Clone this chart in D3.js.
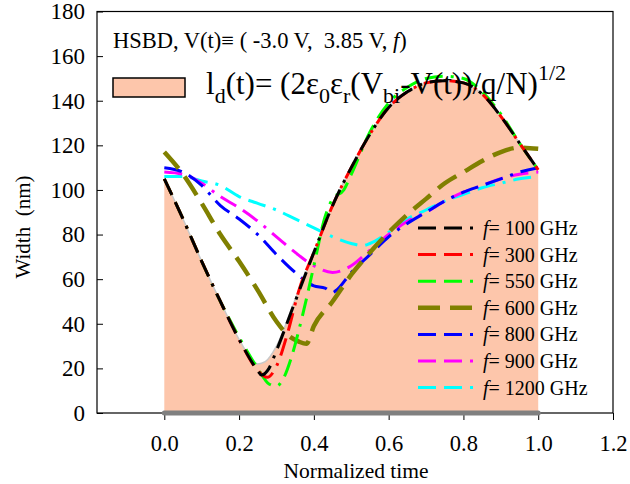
<!DOCTYPE html>
<html><head><meta charset="utf-8">
<script src="https://cdn.jsdelivr.net/npm/d3@7"></script>
<style>body{margin:0;background:#fff}svg{display:block}text{font-family:"Liberation Serif","Times New Roman",serif;white-space:pre}</style>
</head><body><svg id="c" width="630" height="484"></svg>
<script>
const xTicks=[0.0,0.2,0.4,0.6,0.8,1.0,1.2];
const yTicks=[0,20,40,60,80,100,120,140,160,180];
const idealT=[0,0.05,0.1,0.15,0.2,0.225,0.25,0.27,0.3,0.35,0.4,0.45,0.5,0.55,0.6,0.65,0.7,0.75,0.8,0.85,0.9,0.95,1.0];
const idealV=[105,87,68,50,33,26,22,23,30,51,72,93,110,125,137,144,148,149,148,143,133,121,108];
const t100=[0,0.05,0.1,0.15,0.2,0.25,0.26,0.28,0.3,0.35,0.4,0.45,0.5,0.55,0.6,0.65,0.7,0.75,0.8,0.85,0.9,0.95,1.0];
const v100=[105,87,68,50,33,19,17,20,28,50,72,93,110,125,137,144,148,149,148,143,133,121,109];
const t300=[0,0.05,0.1,0.15,0.2,0.25,0.275,0.3,0.33,0.36,0.4,0.45,0.5,0.55,0.6,0.65,0.7,0.75,0.8,0.85,0.9,0.95,1.0];
const v300=[105,87,68,50,33,19,16,21,36,55,72,93,110,125,137,144,148,149,148,143,133,121,109];
const t550=[0,0.05,0.1,0.15,0.2,0.25,0.28,0.3,0.32,0.34,0.37,0.4,0.43,0.45,0.48,0.5,0.55,0.6,0.65,0.7,0.75,0.8,0.85,0.9,0.95,1.0];
const v550=[105,87,68,50,34,20,13,12,16,25,44,66,88,96,100,107,126,139,146,150,151,150,144,134,121,109];
const t600=[0,0.05,0.1,0.15,0.2,0.25,0.3,0.33,0.36,0.38,0.4,0.45,0.5,0.55,0.6,0.65,0.7,0.75,0.8,0.85,0.9,0.95,1.0];
const v600=[117,107,94,80,68,55,41,35,32,31,39,50,62,72,81,89,96,103,108,113,117,119,118.5];
const t800=[0,0.05,0.1,0.15,0.2,0.25,0.3,0.35,0.4,0.43,0.45,0.46,0.5,0.55,0.6,0.65,0.7,0.75,0.8,0.85,0.9,0.95,1.0];
const v800=[110,108,102,93,87,80,71,63,57,56,54,55,63,71,79,85,90,95,99,102,105,108,110];
const t900=[0,0.05,0.1,0.15,0.2,0.25,0.3,0.35,0.4,0.45,0.5,0.55,0.6,0.65,0.7,0.75,0.8,0.85,0.9,0.95,1.0];
const v900=[108,107,103,97,92,86,79,72,66,63,66,73,80,86,90,95,99,102,105,107,108];
const t1200=[0,0.05,0.1,0.15,0.2,0.25,0.3,0.35,0.4,0.45,0.5,0.53,0.55,0.6,0.65,0.7,0.75,0.8,0.85,0.9,0.95,1.0];
const v1200=[106,106,104,102,97,94,91,87,83,79,76,75,76,81,87,91,95,98,101,103,105,106];
const labels=["f= 100 GHz","f= 300 GHz","f= 550 GHz","f= 600 GHz","f= 800 GHz","f= 900 GHz","f= 1200 GHz"];
const colors=["#000000","#ff0000","#00ff00","#808000","#0000ff","#ff00ff","#00ffff"];

const series=[[t100,v100],[t300,v300],[t550,v550],[t600,v600],[t800,v800],[t900,v900],[t1200,v1200]];
const svg=d3.select("#c");
const x=d3.scaleLinear().domain([-0.18,1.2]).range([97,613]);
const y=d3.scaleLinear().domain([0,180]).range([413,11.5]);

// fill area
const ideal=idealT.map((t,i)=>({t,v:idealV[i]}));
svg.append("path").datum(ideal)
  .attr("d",d3.area().x(d=>x(d.t)).y0(y(0)).y1(d=>y(d.v)).curve(d3.curveMonotoneX))
  .attr("fill","#fdc6ab");
svg.append("path").datum(ideal)
  .attr("d",d3.line().x(d=>x(d.t)).y(d=>y(d.v)).curve(d3.curveMonotoneX))
  .attr("fill","none").attr("stroke","#c8c8c8").attr("stroke-width",1.5);

// frame
svg.append("rect").attr("x",97).attr("y",11.5).attr("width",516).attr("height",401.5)
  .attr("fill","none").attr("stroke","#000").attr("stroke-width",1.2);

// axes
const xa=svg.append("g").attr("transform",`translate(0,${y(0)})`)
  .call(d3.axisBottom(x).tickValues(xTicks).tickFormat(d3.format(".1f")).tickSize(7).tickPadding(15));
xa.select(".domain").remove();
xa.selectAll("line").attr("stroke","#000");
xa.selectAll("text").attr("font-size",22.5).attr("fill","#000");
const ya=svg.append("g").attr("transform",`translate(97,0)`)
  .call(d3.axisLeft(y).tickValues(yTicks).tickFormat(d3.format("d")).tickSize(-6).tickPadding(12));
ya.select(".domain").remove();
ya.selectAll("line").attr("stroke","#000");
ya.selectAll("text").attr("font-size",23).attr("fill","#000");

// gray baseline
svg.append("line").attr("x1",x(0)).attr("x2",x(1)).attr("y1",y(0)).attr("y2",y(0))
  .attr("stroke","#808080").attr("stroke-width",5).attr("stroke-linecap","round");

// curves
const dashes=["18,8,18,8,3,8","18,8,18,8,3,8","18,8,18,8,3,8","22,10","18,8,18,8,3,8","18,8,18,8,3,8","18,8,18,8,3,8"];
const widths=[3,3,3,4.5,3,3,3];
const order=[6,5,4,3,2,1,0];
const line=d3.line().x(d=>x(d.t)).y(d=>y(d.v)).curve(d3.curveMonotoneX);
order.forEach(i=>{
  const [ts,vs]=series[i];
  svg.append("path").datum(ts.map((t,j)=>({t,v:vs[j]})))
    .attr("d",line).attr("fill","none").attr("stroke",colors[i])
    .attr("stroke-width",widths[i]).attr("stroke-dasharray",dashes[i]);
});

// legend
const ly0=228, ldy=26.6;
labels.forEach((lab,i)=>{
  const yy=ly0+i*ldy;
  svg.append("line").attr("x1",418).attr("x2",473).attr("y1",yy).attr("y2",yy)
    .attr("stroke",colors[i]).attr("stroke-width",widths[i]).attr("stroke-dasharray",dashes[i]);
  const tx=svg.append("text").attr("x",483).attr("y",yy+7).attr("font-size",20).attr("fill","#000");
  tx.append("tspan").attr("font-style","italic").text("f");
  tx.append("tspan").text(lab.slice(1));
});

// title line 1
const t1=svg.append("text").attr("x",113).attr("y",48).attr("font-size",22.5).attr("fill","#000");
t1.append("tspan").text("HSBD, V(t)\u2261 ( -3.0 V,  3.85 V, ");
t1.append("tspan").attr("font-style","italic").text("f");
t1.append("tspan").text(")");

// legend for fill
svg.append("rect").attr("x",113).attr("y",78).attr("width",72).attr("height",19)
  .attr("fill","#fdc6ab").attr("stroke","#000").attr("stroke-width",1.5);
const t2=svg.append("text").attr("x",206).attr("y",94).attr("font-size",31).attr("fill","#000");
const parts=[["l",0,31],["d",9,22],["(t)= (2\u03b5",-9,31],["0",9,22],["\u03b5",-9,31],["r",9,22],["(V",-9,31],["bi",9,22],["-V(t))/q/N)",-9,31],["1/2",-14,22]];
parts.forEach(p=>t2.append("tspan").attr("dy",p[1]).attr("font-size",p[2]).text(p[0]));

// axis titles
svg.append("text").attr("x",356).attr("y",478).attr("text-anchor","middle").attr("font-size",21.5).text("Normalized time");
svg.append("text").attr("transform","translate(30,227) rotate(-90)").attr("text-anchor","middle").attr("font-size",21).text("Width  (nm)");
</script></body></html>
